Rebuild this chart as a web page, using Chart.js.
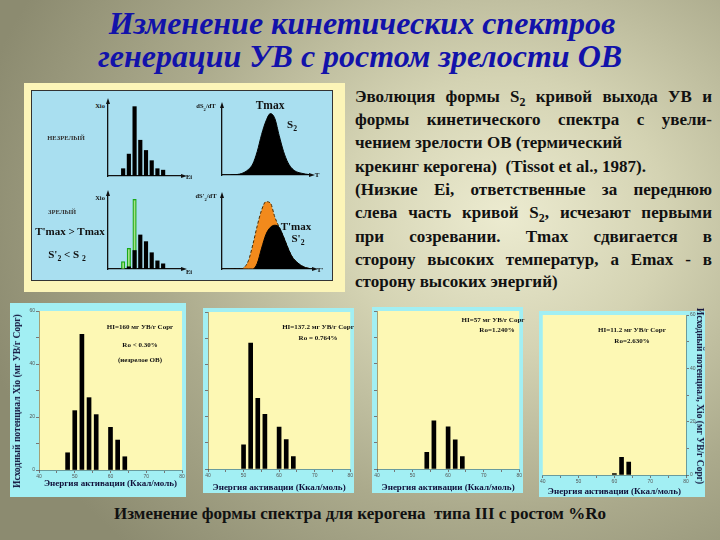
<!DOCTYPE html>
<html>
<head>
<meta charset="utf-8">
<script src="https://cdn.jsdelivr.net/npm/chart.js@4.4.1/dist/chart.umd.min.js"></script>
<style>
  body {
    margin: 0; width: 720px; height: 540px; overflow: hidden; position: relative;
    font-family: "Liberation Serif", "Times New Roman", serif;
    background: radial-gradient(ellipse 75% 85% at 70% 40%, #ecebd0 0%, #d4d3b3 30%, #abaa8c 65%, #8c8b70 100%);
  }
  .abs { position: absolute; }
  .c { position: absolute; transform: translate(-50%, -50%); white-space: nowrap; }
  .title { color: #1212aa; font-weight: bold; font-style: italic; font-size: 32px; }
  .para { position: absolute; left: 355px; width: 357px; font-family: "Liberation Serif", serif; font-weight: bold; font-size: 17px; line-height: 20px; white-space: nowrap; color: #111; }
  .just { text-align: justify; text-align-last: justify; }
  .para sub, .lbl sub { font-size: 70%; line-height: 0; }
  .lbl { font-weight: bold; color: #111; }
  .note { font-weight: bold; font-size: 7px; color: #111; text-align: center; line-height: 10px; }
  .ytitle { position: absolute; font-weight: bold; font-size: 9.5px; color: #10103a; white-space: nowrap; }
  canvas { position: absolute; }
  .panel { background: #a2eff3; }
</style>
</head>
<body>

<div class="c title" style="left:362px; top:23px;">Изменение кинетических спектров</div>
<div class="c title" style="left:360px; top:56px;">генерации УВ с ростом зрелости ОВ</div>

<!-- scheme panel -->
<div class="abs" style="left:24px; top:83px; width:321px; height:209px; background:#fcf5b8;"></div>
<div class="abs" style="left:31px; top:90px; width:300px; height:189px; background:#a9dff0; border:1.5px solid #333;"></div>

<canvas id="schA" width="82" height="81" style="left:106px; top:97px;"></canvas>
<canvas id="schB" width="82" height="82" style="left:106px; top:189px;"></canvas>
<canvas id="schC" width="96" height="76" style="left:220px; top:101px;"></canvas>
<canvas id="schD" width="99" height="80" style="left:220px; top:191px;"></canvas>

<div class="c lbl" style="left:100px; top:105px; font-size:6.5px;">Xio</div>
<div class="c lbl" style="left:189px; top:176px; font-size:6.5px;">Ei</div>
<div class="c lbl" style="left:66px; top:137px; font-size:6.5px; color:#333;">НЕЗРЕЛЫЙ</div>
<div class="c lbl" style="left:206px; top:106px; font-size:6.5px;">dS<sub>2</sub>/dT</div>
<div class="c lbl" style="left:317px; top:175px; font-size:7px;">T</div>
<div class="c lbl" style="left:270px; top:105px; font-size:11.5px;">Tmax</div>
<div class="c lbl" style="left:292px; top:124px; font-size:11px;">S<sub>2</sub></div>

<div class="c lbl" style="left:100px; top:197px; font-size:6.5px;">Xio</div>
<div class="c lbl" style="left:189px; top:271px; font-size:6.5px;">Ei</div>
<div class="c lbl" style="left:62px; top:211px; font-size:6.5px; color:#333;">ЗРЕЛЫЙ</div>
<div class="c lbl" style="left:70px; top:231px; font-size:11px;">T'max &gt; Tmax</div>
<div class="c lbl" style="left:67px; top:254px; font-size:11px;">S'<sub>2</sub> &lt; S <sub>2</sub></div>
<div class="c lbl" style="left:206px; top:196px; font-size:6.5px;">dS'<sub>2</sub>/dT</div>
<div class="c lbl" style="left:320px; top:270px; font-size:7px;">T'</div>
<div class="c lbl" style="left:296px; top:226px; font-size:11px;">T'max</div>
<div class="c lbl" style="left:298px; top:238px; font-size:11px;">S'<sub>2</sub></div>

<!-- text block -->
<div class="para just" style="top:87px;">Эволюция формы S<sub>2</sub> кривой выхода УВ и</div>
<div class="para just" style="top:110px;">формы кинетического спектра с увели-</div>
<div class="para" style="top:133px;">чением зрелости ОВ (термический</div>
<div class="para" style="top:157px;">крекинг керогена)&nbsp; (Tissot et al., 1987).</div>
<div class="para just" style="top:180px;">(Низкие Ei, ответственные за переднюю</div>
<div class="para just" style="top:203px;">слева часть кривой S<sub>2</sub>, исчезают первыми</div>
<div class="para just" style="top:227px;">при созревании. Tmax сдвигается в</div>
<div class="para just" style="top:250px;">сторону высоких температур, а Emax - в</div>
<div class="para" style="top:272px;">сторону высоких энергий)</div>

<!-- bottom spectra -->
<canvas id="sp1" class="panel" width="176" height="194" style="left:10px; top:303px;"></canvas>
<canvas id="sp2" class="panel" width="151" height="185" style="left:203px; top:308px;"></canvas>
<canvas id="sp3" class="panel" width="151" height="186" style="left:372px; top:307px;"></canvas>
<canvas id="sp4" class="panel" width="166" height="186" style="left:539px; top:311px;"></canvas>

<div class="ytitle" style="left:17px; top:401px; transform:translate(-50%,-50%) rotate(-90deg);">Исходный потенциал Xio (мг УВ/г Сорг)</div>
<div class="ytitle" style="left:700px; top:396px; transform:translate(-50%,-50%) rotate(90deg);">Исходный потенциал, Xio (мг УВ/г Сорг)</div>

<div class="c note" style="left:140px; top:327px;">HI=160 мг УВ/г Сорг</div>
<div class="c note" style="left:140px; top:345px;">Ro &lt; 0.30%</div>
<div class="c note" style="left:140px; top:360px;">(незрелое ОВ)</div>
<div class="c note" style="left:318px; top:327px;">HI=137.2 мг УВ/г Сорг</div>
<div class="c note" style="left:318px; top:338px;">Ro = 0.764%</div>
<div class="c note" style="left:493px; top:320px;">HI=57 мг УВ/г Сорг</div>
<div class="c note" style="left:497px; top:330px;">Ro=1.240%</div>
<div class="c note" style="left:632px; top:330px;">HI=11.2 мг УВ/г Сорг</div>
<div class="c note" style="left:632px; top:341px;">Ro=2.630%</div>

<div class="c lbl" style="left:360px; top:514px; font-size:17px;">Изменение формы спектра для керогена&nbsp; типа III с ростом %Ro</div>

<script>
// kinetic spectra, type III kerogen (Ei kcal/mol -> Xio mg HC/g TOC)
const energyTicks = [40, 50, 60, 70, 80];
const xioTicks = [0, 20, 40, 60];
const energies1 = [48, 50, 52, 54, 56, 60, 62, 64];
const xio1 = [6.5, 22.4, 51.2, 27.3, 20.9, 16.1, 11.3, 5.0];
const energies2 = [50, 52, 54, 56, 60, 62, 64];
const xio2 = [9.2, 48.1, 27.0, 20.9, 16.0, 11.2, 4.7];
const energies3 = [54, 56, 60, 62, 64];
const xio3 = [6.3, 18.3, 16.0, 11.1, 4.7];
const energies4 = [60, 62, 64];
const xio4 = [0.5, 6.6, 4.8];

// scheme (relative units)
const schemeEi = [48, 50, 52, 54, 56, 58, 60, 62];
const schemeImmature = [10, 30, 95, 49, 35, 21, 10, 8];
const schemeMature = [0, 3, 25, 46, 37, 22, 11, 7];
const schemeLost = [10, 28, 94, null, null, null, null, null];
const curveT = [10, 15, 20, 25, 30, 35, 40, 45, 50, 55, 60, 65, 70, 75, 80, 85, 90, 95, 100];
const s2Immature = [0, 0.5, 1.5, 4, 9, 18, 38, 66, 88, 100, 92, 64, 38, 20, 10, 5, 3, 1.5, 0.5];
const s2MatureTotal = [0, 0, 0, 2, 12, 35, 62, 85, 97, 95, 75, 60, 46, 30, 17, 10, 5, 2, 0.5];
const s2Mature = [0, 0, 0, 0, 0, 0, 8, 30, 50, 60, 63, 60, 46, 30, 17, 10, 5, 2, 0.5];

const plotBg = {
  id: 'plotBg',
  beforeDraw(chart, args, opts) {
    if (!opts.color) return;
    const { ctx, chartArea: a } = chart;
    ctx.save();
    ctx.fillStyle = opts.color;
    ctx.fillRect(a.left, a.top, a.width, a.height);
    ctx.restore();
  }
};

// arrowheads on the scheme axes
const arrows = {
  id: 'arrows',
  afterDraw(chart) {
    const { ctx, chartArea: a } = chart;
    ctx.save();
    ctx.fillStyle = '#111';
    ctx.beginPath();
    ctx.moveTo(a.left, a.top - 5);
    ctx.lineTo(a.left - 2, a.top + 1);
    ctx.lineTo(a.left + 2, a.top + 1);
    ctx.closePath();
    ctx.fill();
    ctx.beginPath();
    ctx.moveTo(a.right + 5, a.bottom);
    ctx.lineTo(a.right - 1, a.bottom - 2);
    ctx.lineTo(a.right - 1, a.bottom + 2);
    ctx.closePath();
    ctx.fill();
    ctx.restore();
  }
};

const pts = (xs, ys) => xs.map((x, i) => ({ x: x, y: ys[i] }));

function spectrum(id, energies, values, cfg) {
  return new Chart(document.getElementById(id), {
    type: 'bar',
    data: {
      datasets: [{ data: pts(energies, values), backgroundColor: '#000', barThickness: 4 }]
    },
    options: {
      responsive: false,
      animation: false,
      layout: { padding: cfg.padding },
      plugins: { legend: { display: false }, tooltip: { enabled: false }, plotBg: { color: '#fdf8b4' } },
      scales: {
        x: {
          type: 'linear', min: 40, max: 80, offset: false,
          ticks: {
            stepSize: 5, autoSkip: false, maxRotation: 0, padding: 1, color: '#555',
            font: { size: 5 },
            callback: v => energyTicks.includes(v) ? v : ''
          },
          grid: { drawOnChartArea: false, offset: false, tickLength: 3, color: '#777' },
          border: { color: 'rgba(0,0,0,0.35)' },
          title: {
            display: true, text: 'Энергия активации (Ккал/моль)', color: '#10103a',
            font: { family: 'Liberation Serif', weight: 'bold', size: 9 },
            padding: { top: 0, bottom: cfg.titlePad }
          },
          afterFit: s => { s.height = cfg.xh; }
        },
        y: {
          position: cfg.yPos, min: 0, max: 60,
          ticks: {
            stepSize: 10, padding: 1, color: '#555', font: { size: 5 },
            callback: v => (cfg.yLabels && xioTicks.includes(v)) ? v : ''
          },
          grid: { drawOnChartArea: false, tickLength: 3, color: '#777' },
          border: { color: 'rgba(0,0,0,0.35)' },
          afterFit: s => { s.width = cfg.yw; }
        }
      }
    },
    plugins: [plotBg]
  });
}

spectrum('sp1', energies1, xio1, { padding: { top: 8, right: 4, left: 0, bottom: 0 }, xh: 27, yw: 29, yPos: 'left', yLabels: true, titlePad: 8 });
spectrum('sp2', energies2, xio2, { padding: { top: 4, right: 3, left: 0, bottom: 0 }, xh: 24, yw: 5, yPos: 'left', yLabels: false, titlePad: 0 });
spectrum('sp3', energies3, xio3, { padding: { top: 3, right: 3, left: 0, bottom: 0 }, xh: 24, yw: 5, yPos: 'left', yLabels: false, titlePad: 0 });
spectrum('sp4', energies4, xio4, { padding: { top: 3, right: 0, left: 3, bottom: 0 }, xh: 22, yw: 19, yPos: 'right', yLabels: true, titlePad: 0 });

const schemeAxis = (min, max) => ({
  type: 'linear', min: min, max: max, offset: false,
  ticks: { display: false },
  grid: { display: false, offset: false },
  border: { display: true, color: '#111', width: 1.3 },
  afterFit: s => { if (s.isHorizontal()) s.height = 0; else s.width = 0; }
});

const schemeOpts = (xMin, xMax, yMax) => ({
  responsive: false,
  animation: false,
  layout: { padding: { left: 2, top: 6, right: 6, bottom: 2 } },
  plugins: { legend: { display: false }, tooltip: { enabled: false } },
  scales: { x: schemeAxis(xMin, xMax), y: schemeAxis(0, yMax) }
});

new Chart(document.getElementById('schA'), {
  type: 'bar',
  data: { datasets: [{ data: pts(schemeEi, schemeImmature), backgroundColor: '#000', barThickness: 3.5 }] },
  options: schemeOpts(42.7, 68.6, 100),
  plugins: [arrows]
});

new Chart(document.getElementById('schB'), {
  type: 'bar',
  data: {
    datasets: [
      { data: pts(schemeEi, schemeMature), backgroundColor: '#000', barThickness: 3.5, grouped: false },
      { data: pts(schemeEi, schemeLost), backgroundColor: 'rgba(200,240,150,0.7)', borderColor: '#19a819', borderWidth: 1.2, barThickness: 3.5, grouped: false }
    ]
  },
  options: schemeOpts(42.7, 68.6, 100),
  plugins: [arrows]
});

new Chart(document.getElementById('schC'), {
  type: 'line',
  data: {
    datasets: [{
      data: pts(curveT, s2Immature), fill: 'origin', backgroundColor: '#000', borderColor: '#000',
      borderWidth: 1, pointRadius: 0, cubicInterpolationMode: 'monotone'
    }]
  },
  options: schemeOpts(0, 100, 110.7),
  plugins: [arrows]
});

new Chart(document.getElementById('schD'), {
  type: 'line',
  data: {
    datasets: [
      { data: pts(curveT, s2Mature), fill: 'origin', backgroundColor: '#000', borderColor: '#000',
        borderWidth: 1, pointRadius: 0, cubicInterpolationMode: 'monotone' },
      { data: pts(curveT, s2MatureTotal), fill: 'origin', backgroundColor: '#f28a1c', borderColor: '#4a2a00',
        borderWidth: 1, borderDash: [3, 2], pointRadius: 0, cubicInterpolationMode: 'monotone' }
    ]
  },
  options: schemeOpts(0, 103.4, 103.7),
  plugins: [arrows]
});
</script>
</body>
</html>
